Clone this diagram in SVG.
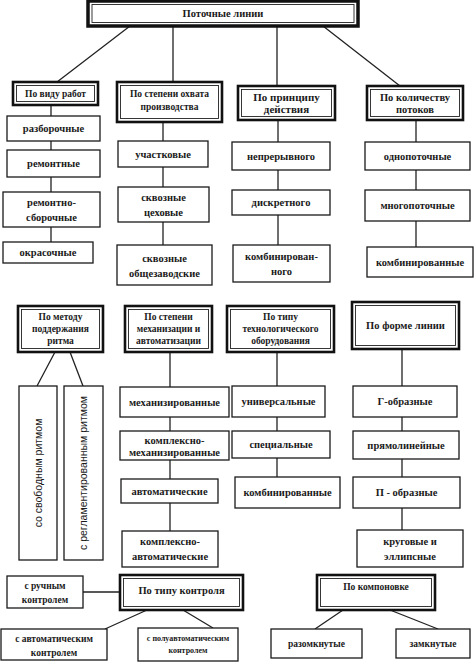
<svg xmlns="http://www.w3.org/2000/svg" width="474" height="667" viewBox="0 0 474 667">
<style>
.b{fill:#fff;stroke:#1a1a1a;stroke-width:1.3}
.o{fill:#fff;stroke:#111;stroke-width:2.6}
.i{fill:none;stroke:#222;stroke-width:0.9}
.c{fill:none;stroke:#222;stroke-width:1.3}
text{font-family:"Liberation Serif","DejaVu Serif",serif;font-weight:bold;fill:#1a1a1a;text-anchor:middle}
.t{font-size:10.5px}
.h{font-size:9.5px}
.hb{font-size:11px}
.s{font-size:8px}
.v{font-family:"Liberation Sans","DejaVu Sans",sans-serif;font-weight:normal;font-size:10.5px}
</style>
<rect width="474" height="667" fill="#fff"/>
<g id="connectors">
<path class="c" d="M130,26L57,82M173,26V82M277,26V86M323,26L400,86"/>
<path class="c" d="M51,105V242M163,122V245M278,120V245M416,120V247"/>
<path class="c" d="M55,352L37,386M70,352L83,386"/>
<path class="c" d="M170,352V531M277,352V477M402,349V530"/>
<path class="c" d="M83,592H120M147,610L105,629M183,610L213,628M343,610L315,629M390,610L438,629"/>
</g>
<g id="root"><rect class="o" x="88" y="1" width="270" height="25" style="stroke-width:3.5"/><rect class="i" x="92" y="4.5" width="262" height="18"/><text class="t" x="223" y="17">Поточные линии</text></g>
<g id="h1"><rect class="o" x="13" y="82" width="85" height="23"/><rect class="i" x="16.5" y="85.5" width="78" height="16"/><text class="h" x="55.5" y="97">По виду работ</text></g>
<g id="h2"><rect class="o" x="117" y="82" width="105" height="40"/><rect class="i" x="120.5" y="85.5" width="98" height="33"/><text class="h" x="169.5" y="97">По степени охвата</text><text class="h" x="169.5" y="110">производства</text></g>
<g id="h3"><rect class="o" x="238" y="86" width="97" height="34"/><rect class="i" x="241.5" y="89.5" width="90" height="27"/><text class="hb" x="286.5" y="101">По принципу</text><text class="hb" x="286.5" y="113">действия</text></g>
<g id="h4"><rect class="o" x="367" y="86" width="96" height="34"/><rect class="i" x="370.5" y="89.5" width="89" height="27"/><text class="t" x="415" y="101">По количеству</text><text class="t" x="415" y="113">потоков</text></g>

<g id="n11"><rect class="b" x="7" y="116" width="93" height="25"/><text class="t" x="53.5" y="132">разборочные</text></g>
<g id="n12"><rect class="b" x="7" y="150" width="93" height="27"/><text class="t" x="53.5" y="167">ремонтные</text></g>
<g id="n13"><rect class="b" x="3" y="192" width="97" height="35"/><text class="t" x="51.5" y="206">ремонтно-</text><text class="t" x="51.5" y="221">сборочные</text></g>
<g id="n14"><rect class="b" x="3" y="242" width="90" height="21"/><text class="t" x="48" y="256">окрасочные</text></g>

<g id="n21"><rect class="b" x="118" y="141" width="90" height="26"/><text class="t" x="163" y="158">участковые</text></g>
<g id="n22"><rect class="b" x="118" y="187" width="91" height="35"/><text class="t" x="163.5" y="201">сквозные</text><text class="t" x="163.5" y="216">цеховые</text></g>
<g id="n23"><rect class="b" x="117" y="245" width="95" height="40"/><text class="t" x="164.5" y="262">сквозные</text><text class="t" x="164.5" y="277">общезаводские</text></g>

<g id="n31"><rect class="b" x="232" y="142" width="98" height="28"/><text class="t" x="281" y="160">непрерывного</text></g>
<g id="n32"><rect class="b" x="232" y="190" width="98" height="25"/><text class="t" x="281" y="206">дискретного</text></g>
<g id="n33"><rect class="b" x="233" y="245" width="97" height="37"/><text class="t" x="281.5" y="260">комбинирован-</text><text class="t" x="281.5" y="275">ного</text></g>

<g id="n41"><rect class="b" x="365" y="142" width="105" height="28"/><text class="t" x="417.5" y="160">однопоточные</text></g>
<g id="n42"><rect class="b" x="365" y="190" width="105" height="31"/><text class="t" x="417.5" y="209">многопоточные</text></g>
<g id="n43"><rect class="b" x="367" y="247" width="106" height="30"/><text class="t" x="420" y="266">комбинированные</text></g>

<g id="h5"><rect class="o" x="18" y="306" width="85" height="46"/><rect class="i" x="21.5" y="309.5" width="78" height="39"/><text class="h" x="60.5" y="320">По методу</text><text class="h" x="60.5" y="332">поддержания</text><text class="h" x="60.5" y="344">ритма</text></g>
<g id="h6"><rect class="o" x="125" y="306" width="87" height="46"/><rect class="i" x="128.5" y="309.5" width="80" height="39"/><text class="h" x="168.5" y="320">По степени</text><text class="h" x="168.5" y="332">механизации и</text><text class="h" x="168.5" y="344">автоматизации</text></g>
<g id="h7"><rect class="o" x="227" y="306" width="107" height="46"/><rect class="i" x="230.5" y="309.5" width="100" height="39"/><text class="h" x="280.5" y="320">По типу</text><text class="h" x="280.5" y="332">технологического</text><text class="h" x="280.5" y="344">оборудования</text></g>
<g id="h8"><rect class="o" x="352" y="302" width="107" height="47"/><rect class="i" x="355.5" y="305.5" width="100" height="40"/><text class="t" x="405.5" y="329">По форме линии</text></g>

<g id="n51"><rect class="b" x="19" y="386" width="38" height="174"/><text class="v" transform="translate(41.5,473) rotate(-90)">со свободным ритмом</text></g>
<g id="n52"><rect class="b" x="64" y="386" width="39" height="174"/><text class="v" transform="translate(87,473) rotate(-90)">с регламентированным ритмом</text></g>

<g id="n61"><rect class="b" x="120" y="387" width="109" height="30"/><text class="t" x="174.5" y="406">механизированные</text></g>
<g id="n62"><rect class="b" x="120" y="431" width="109" height="29"/><text class="t" x="174.5" y="444">комплексно-</text><text class="t" x="174.5" y="456">механизированные</text></g>
<g id="n63"><rect class="b" x="121" y="479" width="97" height="24"/><text class="t" x="169.5" y="495">автоматические</text></g>
<g id="n64"><rect class="b" x="122" y="531" width="96" height="36"/><text class="t" x="170" y="545">комплексно-</text><text class="t" x="170" y="560">автоматические</text></g>

<g id="n71"><rect class="b" x="232" y="386" width="93" height="31"/><text class="t" x="278.5" y="405">универсальные</text></g>
<g id="n72"><rect class="b" x="232" y="431" width="98" height="27"/><text class="t" x="281" y="448">специальные</text></g>
<g id="n73"><rect class="b" x="235" y="477" width="105" height="31"/><text class="t" x="287.5" y="496">комбинированные</text></g>

<g id="n81"><rect class="b" x="353" y="386" width="104" height="31"/><text class="t" x="405" y="405">Г-образные</text></g>
<g id="n82"><rect class="b" x="353" y="431" width="106" height="28"/><text class="t" x="406" y="449">прямолинейные</text></g>
<g id="n83"><rect class="b" x="353" y="477" width="107" height="31"/><text class="t" x="406.5" y="496">П - образные</text></g>
<g id="n84"><rect class="b" x="357" y="530" width="106" height="37"/><text class="t" x="410" y="545">круговые и</text><text class="t" x="410" y="560">эллипсные</text></g>

<g id="h9"><rect class="o" x="120" y="575" width="123" height="35"/><rect class="i" x="123.5" y="578.5" width="116" height="28"/><text class="t" x="181.5" y="594">По типу контроля</text></g>
<g id="n91"><rect class="b" x="7" y="576" width="76" height="32"/><text class="h" x="45" y="589">с ручным</text><text class="h" x="45" y="603">контролем</text></g>
<g id="n92"><rect class="b" x="1" y="629" width="106" height="31"/><text class="h" x="54" y="642">с автоматическим</text><text class="h" x="54" y="656">контролем</text></g>
<g id="n93"><rect class="b" x="138" y="628" width="100" height="33"/><text class="s" x="188" y="641">с полуавтоматическим</text><text class="s" x="188" y="653">контролем</text></g>

<g id="h10"><rect class="o" x="317" y="575" width="118" height="35"/><rect class="i" x="320.5" y="578.5" width="111" height="28"/><text class="h" x="376" y="590">По компоновке</text></g>
<g id="n101"><rect class="b" x="271" y="629" width="91" height="29"/><text class="h" x="316.5" y="647">разомкнутые</text></g>
<g id="n102"><rect class="b" x="396" y="629" width="74" height="29"/><text class="h" x="433" y="647">замкнутые</text></g>
</svg>
